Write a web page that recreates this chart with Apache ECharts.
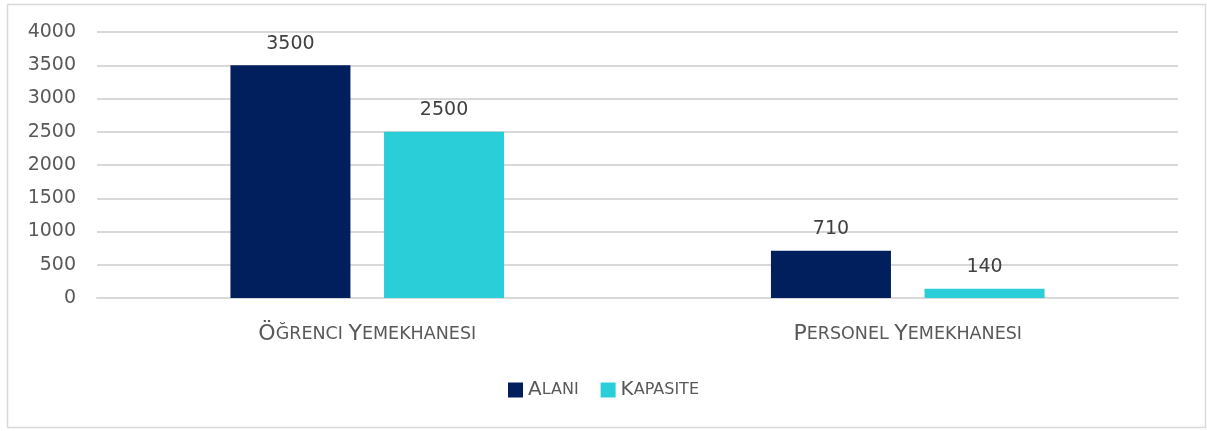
<!DOCTYPE html>
<html>
<head>
<meta charset="utf-8">
<script src="https://cdn.jsdelivr.net/npm/echarts@6/dist/echarts.min.js"></script>
<style>
  html, body { margin: 0; padding: 0; background: #fff; }
  #chart { width: 1207px; height: 431px; }
</style>
</head>
<body>
<div id="chart"></div>
<script>
var categories = ['Öğrenci Yemekhanesi', 'Personel Yemekhanesi']
var alani = [3500, 710]
var kapasite = [2500, 140]
var seriesNames = ['Alanı', 'Kapasite']

var chart = echarts.init(document.getElementById('chart'))
var font = 'DejaVu Sans'
var textColor = '#595959'

// small caps: first letter of each word big, rest uppercase in smaller size
function smallCaps(text) {
    return text.split(' ').map(function(word) {
        return '{b|' + word.charAt(0) + '}{s|' + word.slice(1).toUpperCase() + '}'
    }).join('{s| }')
}

var option = {
    animation: false,
    graphic: [{
        type: 'rect',
        shape: { x: 7.5, y: 4.5, width: 1198, height: 423 },
        style: { fill: 'none', stroke: '#d9d9d9', lineWidth: 1.5 },
        silent: true
    }],
    grid: { left: 97, right: 29, top: 32, bottom: 133, containLabel: false },
    legend: {
        bottom: 26,
        left: 'center',
        itemWidth: 15,
        itemHeight: 15,
        itemGap: 22,
        icon: 'rect',
        formatter: function(name) { return smallCaps(name) },
        textStyle: {
            color: textColor,
            fontFamily: font,
            rich: {
                b: { fontSize: 20, fontFamily: font, color: textColor },
                s: { fontSize: 16, fontFamily: font, color: textColor }
            }
        },
        data: seriesNames
    },
    xAxis: {
        type: 'category',
        data: categories,
        axisLine: { show: true, lineStyle: { color: '#d9d9d9', width: 2 } },
        axisTick: { show: false },
        axisLabel: {
            color: textColor,
            fontFamily: font,
            margin: 25,
            formatter: function(value) { return smallCaps(value) },
            rich: {
                b: { fontSize: 22, fontFamily: font, color: textColor },
                s: { fontSize: 17.5, fontFamily: font, color: textColor }
            }
        }
    },
    yAxis: {
        type: 'value',
        min: 0,
        max: 4000,
        interval: 500,
        axisLine: { show: false },
        axisTick: { show: false },
        axisLabel: {
            color: textColor,
            fontFamily: font,
            fontSize: 19,
            margin: 21,
            formatter: function(v) { return String(v) }
        },
        splitLine: { lineStyle: { color: '#d9d9d9', width: 2 } }
    },
    series: [{
        name: seriesNames[0],
        type: 'bar',
        data: alani,
        barWidth: 120,
        barGap: '28%',
        itemStyle: { color: '#001f5c' },
        label: { show: true, position: 'top', distance: 12, color: '#404040', fontFamily: font, fontSize: 19 }
    }, {
        name: seriesNames[1],
        type: 'bar',
        data: kapasite,
        barWidth: 120,
        itemStyle: { color: '#29ced8' },
        label: { show: true, position: 'top', distance: 12, color: '#404040', fontFamily: font, fontSize: 19 }
    }]
}

chart.setOption(option)
</script>
</body>
</html>
